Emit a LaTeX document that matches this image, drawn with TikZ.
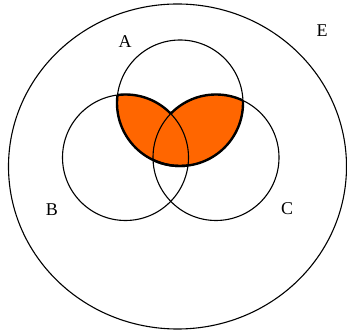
\documentclass[tikz,border=0pt]{standalone}
\usepackage{fontspec}
\setmainfont{Liberation Serif}
\definecolor{vennorange}{HTML}{FF6600}
\begin{document}
\begin{tikzpicture}[x=1pt,y=1pt,line width=1.1pt,
	setlabel/.style={font=\fontsize{18}{20}\selectfont},
	rim/.style={line width=2.4pt}]
	\useasboundingbox (0,0) rectangle (347,331);
	\coordinate (a) at (180,228);
	\coordinate (b) at (125.5,173.5);
	\coordinate (c) at (216,173.5);
	\def\rad{63}
	% shaded part: A and (B or C)
	\begin{scope}
		\clip (a) circle[radius=\rad];
		\fill[vennorange] (b) circle[radius=\rad] (c) circle[radius=\rad];
	\end{scope}
	% its thick outline
	\begin{scope}
		\clip (b) circle[radius=\rad];
		\draw[rim] (a) circle[radius=\rad];
	\end{scope}
	\begin{scope}
		\clip (c) circle[radius=\rad];
		\draw[rim] (a) circle[radius=\rad];
	\end{scope}
	\begin{scope}[even odd rule]
		\clip (a) circle[radius=\rad];
		\clip (0,0) rectangle (347,331) (c) circle[radius=\rad];
		\draw[rim] (b) circle[radius=\rad];
	\end{scope}
	\begin{scope}[even odd rule]
		\clip (a) circle[radius=\rad];
		\clip (0,0) rectangle (347,331) (b) circle[radius=\rad];
		\draw[rim] (c) circle[radius=\rad];
	\end{scope}
	% sets
	\draw (177.5,164.5) ellipse[x radius=169,y radius=162.5];
	\draw (a) circle[radius=\rad];
	\draw (b) circle[radius=\rad];
	\draw (c) circle[radius=\rad];
	\node[setlabel] (labA) at (125,289) {A};
	\node[setlabel] (labB) at (52,121) {B};
	\node[setlabel] (labC) at (287,122) {C};
	\node[setlabel] (labE) at (322,300) {E};
\end{tikzpicture}
\end{document}
